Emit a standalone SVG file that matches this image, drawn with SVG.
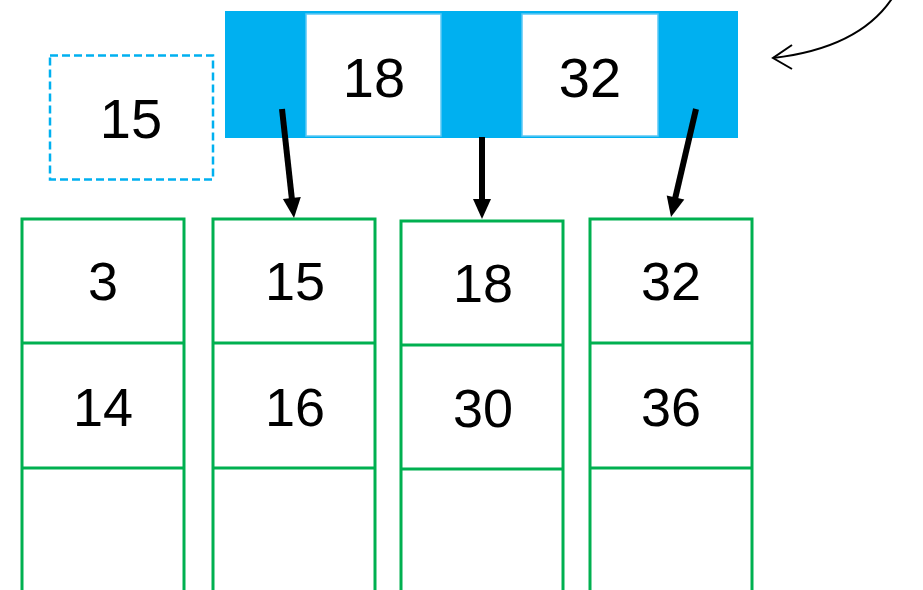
<svg xmlns="http://www.w3.org/2000/svg" width="923" height="590" viewBox="0 0 923 590">
<style>
.t{font-family:"Liberation Sans",Arial,sans-serif;fill:#000;text-anchor:middle}
.big{font-size:56px}
.sm{font-size:54px}
.leaf{fill:#fff;stroke:#00B050;stroke-width:3}
.conn{stroke:#000;stroke-width:6;fill:none}
.head{fill:#000}
</style>
<rect width="923" height="590" fill="#fff"/>
<g id="newkey">
<rect x="50" y="55.5" width="163" height="124" fill="#fff" stroke="#00B0F0" stroke-width="2.5" stroke-dasharray="8,4"/>
<text class="t big" x="131" y="138">15</text>
</g>
<g id="root">
<rect x="225" y="11" width="513" height="127" fill="#00B0F0"/>
<rect x="306" y="14" width="135" height="122" fill="#fff" stroke="#5BC8F5" stroke-width="1.5"/>
<rect x="522" y="14" width="136" height="122" fill="#fff" stroke="#5BC8F5" stroke-width="1.5"/>
<text class="t big" x="374" y="97">18</text>
<text class="t big" x="590" y="97">32</text>
</g>
<g id="leaf1">
<rect class="leaf" x="22" y="219" width="162" height="380"/>
<line class="leaf" x1="22" y1="343" x2="184" y2="343"/>
<line class="leaf" x1="22" y1="468" x2="184" y2="468"/>
<text class="t sm" x="103" y="300">3</text>
<text class="t sm" x="103" y="426">14</text>
</g>
<g id="leaf2">
<rect class="leaf" x="213" y="219" width="162" height="380"/>
<line class="leaf" x1="213" y1="343" x2="375" y2="343"/>
<line class="leaf" x1="213" y1="468" x2="375" y2="468"/>
<text class="t sm" x="295" y="300">15</text>
<text class="t sm" x="295" y="426">16</text>
</g>
<g id="leaf3">
<rect class="leaf" x="401" y="221" width="162" height="380"/>
<line class="leaf" x1="401" y1="345" x2="563" y2="345"/>
<line class="leaf" x1="401" y1="469" x2="563" y2="469"/>
<text class="t sm" x="483" y="302">18</text>
<text class="t sm" x="483" y="427">30</text>
</g>
<g id="leaf4">
<rect class="leaf" x="590" y="219" width="162" height="380"/>
<line class="leaf" x1="590" y1="343" x2="752" y2="343"/>
<line class="leaf" x1="590" y1="468" x2="752" y2="468"/>
<text class="t sm" x="671" y="300">32</text>
<text class="t sm" x="671" y="426">36</text>
</g>
<g id="connectors">
<line class="conn" x1="282" y1="109" x2="292" y2="200"/>
<polygon class="head" points="294,218 300.8,197.1 282.9,199.1"/>
<line class="conn" x1="482" y1="137" x2="482" y2="201"/>
<polygon class="head" points="482,219 473,199 491,199"/>
<line class="conn" x1="696" y1="109" x2="675" y2="199"/>
<polygon class="head" points="671,217 684.3,199.5 666.7,195.5"/>
<path d="M893,-3 Q860,48 773,58" fill="none" stroke="#000" stroke-width="2"/>
<path d="M792,45 L773,58 L792,69" fill="none" stroke="#000" stroke-width="2"/>
</g>
</svg>
